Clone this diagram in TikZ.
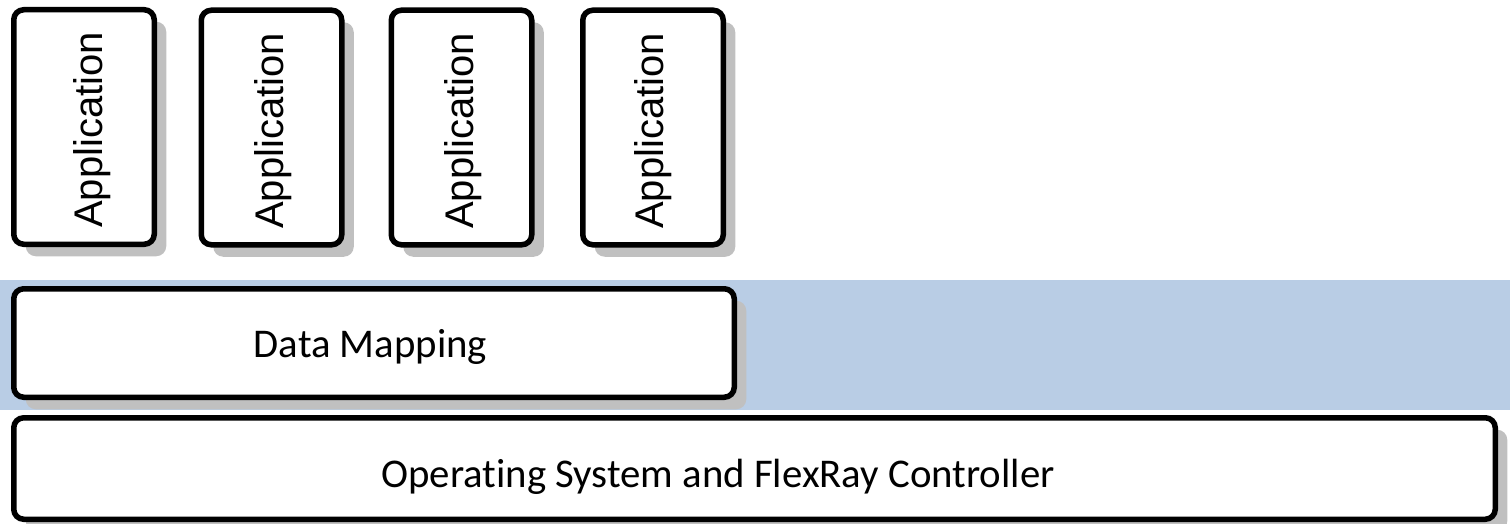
\documentclass[tikz,border=0pt]{standalone}
\usepackage{fontspec}
\setmainfont[RawFeature=-liga]{Carlito}
\newfontfamily\appfont{Liberation Sans}
\usetikzlibrary{shadows}
\definecolor{bandblue}{HTML}{B9CDE5}
\definecolor{shadowgray}{HTML}{C0C0C0}
\begin{document}
\begin{tikzpicture}[x=0.5pt,y=-0.5pt,
  layerbox/.style={draw=black, line width=2.75pt, fill=white, rounded corners=5pt,
    inner sep=0pt,
    drop shadow={shadow xshift=6pt, shadow yshift=-6pt, opacity=1, fill=shadowgray}},
  appbox/.style={layerbox, minimum width=70.25pt, minimum height=117.25pt},
  apptext/.style={rotate=90, anchor=base, inner sep=0pt,
    font=\appfont\fontsize{20}{24}\selectfont},
  layertext/.style={anchor=base, inner sep=0pt, font=\fontsize{20.4}{24}\selectfont}]
\useasboundingbox (0,0) rectangle (1510,524);

% band behind the mapping layer
\fill[bandblue] (0,280) rectangle (1510,410);

% application components
\node[appbox] (a1) at (84,127) {};
\node[appbox] (a2) at (271.5,127.5) {};
\node[appbox] (a3) at (461.5,127.5) {};
\node[appbox] (a4) at (653,127.5) {};
\node[apptext] (t1) at (102,130) {Application};
\node[apptext] (t2) at (283,131) {Application};
\node[apptext] (t3) at (473,131) {Application};
\node[apptext] (t4) at (663,131) {Application};

% lower layers
\node[layerbox, minimum width=360.25pt, minimum height=54.25pt] (dm) at (374,343) {};
\node[layertext] (dmt) at (370.5,357) {Data Mapping};
\node[layerbox, minimum width=740.75pt, minimum height=50.75pt] (os) at (754.5,468.5) {};
\node[layertext] (ost) at (718,487) {Operating System and FlexRay Controller};
\end{tikzpicture}
\end{document}
